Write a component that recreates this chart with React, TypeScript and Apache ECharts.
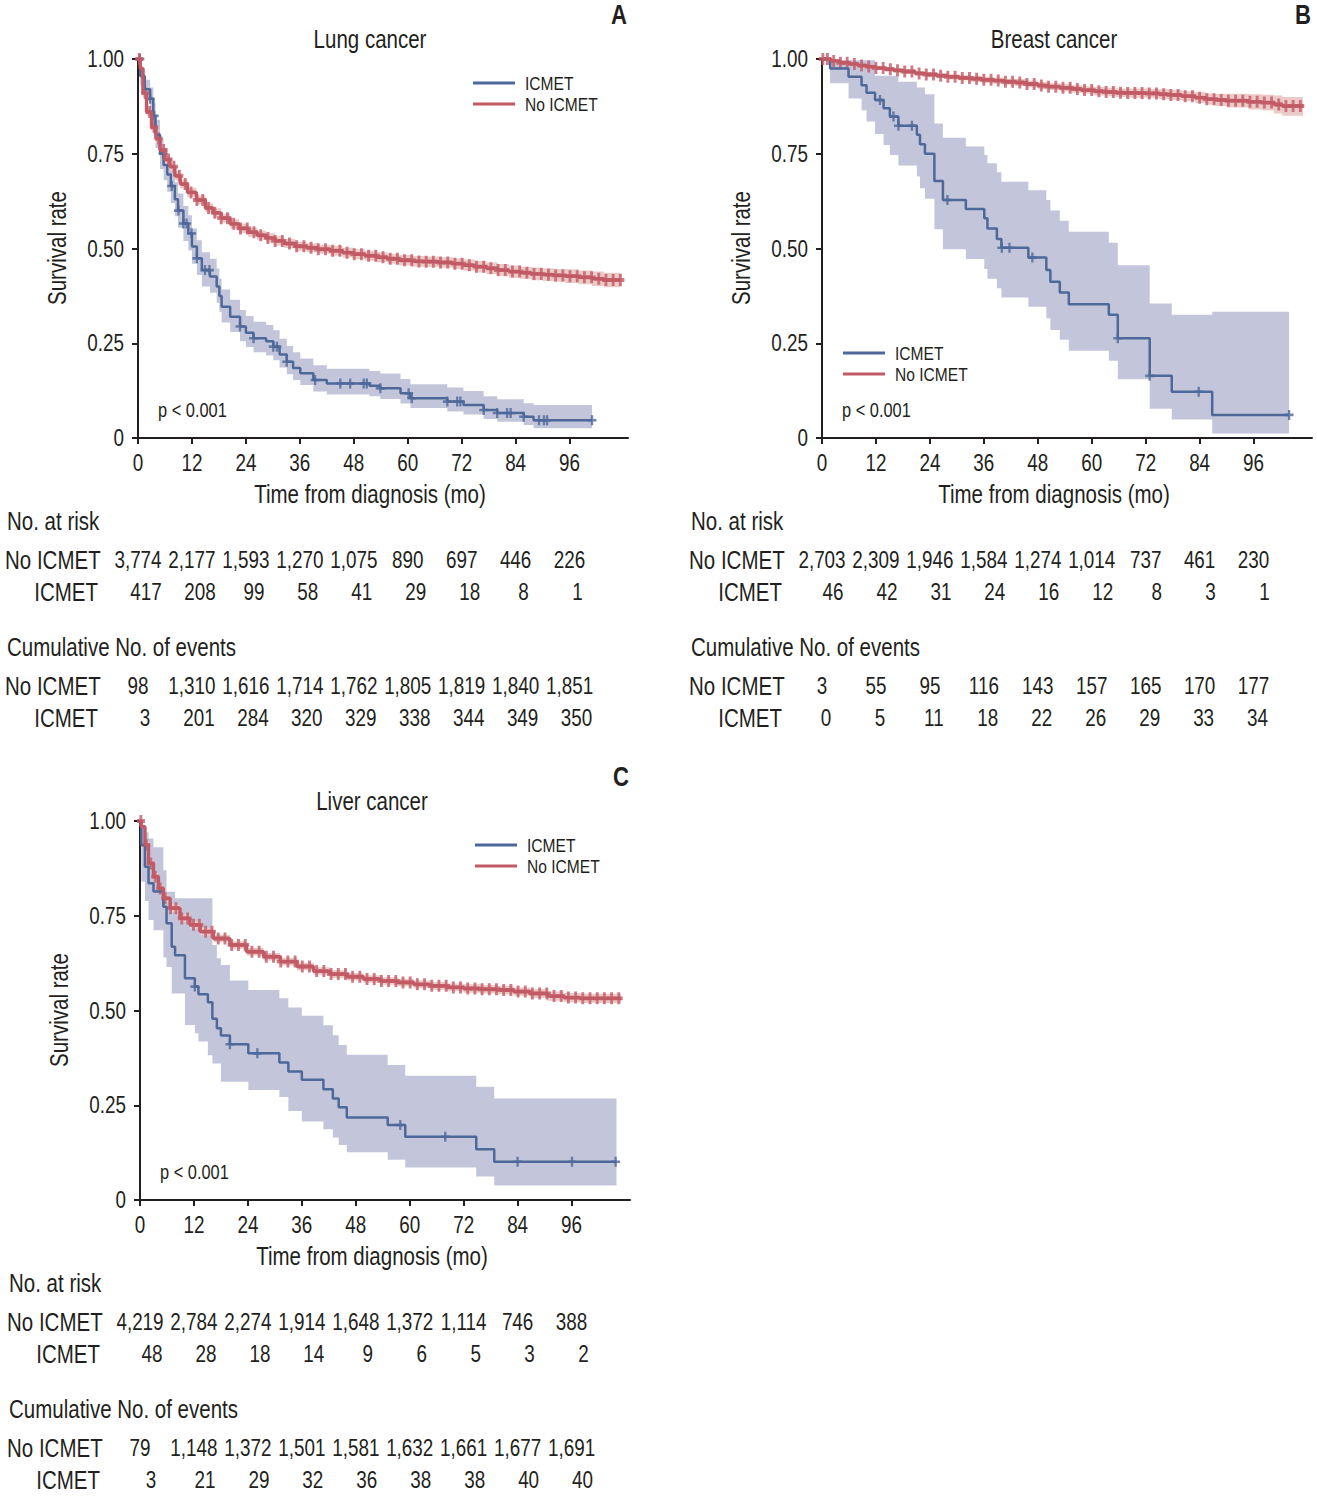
import React, { useEffect, useRef } from 'react';
import * as echarts from 'echarts';

type Row = [number, number, number, number]; // [month, survival, lower CI, upper CI]

// ---------- shared axes ----------
const monthTicks = [0, 12, 24, 36, 48, 60, 72, 84, 96];
const survTicks = [0, 0.25, 0.5, 0.75, 1];
const xMax = 109;

// ---------- A: Lung cancer ----------
const lungIcmet: Row[] = [
  [0, 1, 1, 1], [0.5, 0.955, 0.93, 0.975], [1.5, 0.92, 0.89, 0.945], [2.7, 0.895, 0.865, 0.925],
  [3.4, 0.85, 0.815, 0.885], [3.9, 0.8, 0.765, 0.84], [4.9, 0.75, 0.71, 0.79], [5.7, 0.72, 0.68, 0.765],
  [6.5, 0.695, 0.65, 0.74], [7.3, 0.665, 0.62, 0.71], [8.2, 0.63, 0.585, 0.675], [8.9, 0.6, 0.555, 0.645],
  [10.1, 0.566, 0.52, 0.612], [11.2, 0.54, 0.495, 0.588], [12.0, 0.505, 0.46, 0.553], [13.1, 0.474, 0.43, 0.522],
  [14.2, 0.443, 0.4, 0.49], [16.0, 0.426, 0.383, 0.473], [17.5, 0.4, 0.357, 0.447], [18.1, 0.375, 0.333, 0.42],
  [18.6, 0.346, 0.305, 0.392], [20.5, 0.32, 0.28, 0.365], [22.7, 0.294, 0.255, 0.338], [24.0, 0.278, 0.24, 0.322],
  [25.7, 0.263, 0.226, 0.307], [28.5, 0.255, 0.218, 0.298], [30.1, 0.241, 0.205, 0.284], [31.5, 0.22, 0.186, 0.262],
  [33.1, 0.201, 0.168, 0.243], [34.5, 0.185, 0.153, 0.226], [36.1, 0.171, 0.14, 0.21], [39.0, 0.153, 0.123, 0.192],
  [42.0, 0.144, 0.115, 0.183], [51.5, 0.138, 0.11, 0.177], [53.9, 0.131, 0.103, 0.17], [58.4, 0.118, 0.091, 0.156],
  [60.6, 0.105, 0.079, 0.142], [68.8, 0.096, 0.07, 0.133], [72.4, 0.087, 0.062, 0.124], [76.9, 0.074, 0.05, 0.11],
  [79.9, 0.066, 0.043, 0.102], [85.8, 0.056, 0.034, 0.092], [88.0, 0.047, 0.026, 0.087],
];
const lungIcmetEnd = 101;
const lungIcmetCensor = [0.4, 2.7, 3.6, 5.6, 7.5, 9.0, 10.1, 10.8, 11.9, 13.1, 14.9, 15.9, 22.7, 25.7, 30.1, 30.9, 33.1,
  39.4, 45.0, 47.2, 50.2, 50.9, 53.9, 60.2, 60.9, 68.8, 71.0, 71.7, 76.9, 79.9, 82.1, 82.9, 85.8, 89.2, 90.3, 91.0, 101.0];

const lungNo: Row[] = [
  [0, 1, 1, 1], [0.5, 0.975, 0.97, 0.98], [1.1, 0.91, 0.9, 0.92], [1.9, 0.86, 0.85, 0.87],
  [3.0, 0.82, 0.808, 0.832], [4.0, 0.79, 0.778, 0.802], [4.9, 0.76, 0.748, 0.772], [6.0, 0.735, 0.723, 0.747],
  [7.1, 0.716, 0.704, 0.728], [8.2, 0.692, 0.68, 0.704], [9.4, 0.67, 0.658, 0.682], [11.0, 0.648, 0.636, 0.66],
  [13.0, 0.628, 0.616, 0.64], [15.0, 0.607, 0.595, 0.619], [16.7, 0.594, 0.582, 0.606], [18.5, 0.58, 0.568, 0.592],
  [20.5, 0.565, 0.553, 0.577], [22.5, 0.553, 0.541, 0.565], [24.5, 0.543, 0.531, 0.555], [26.5, 0.535, 0.523, 0.547],
  [28.5, 0.528, 0.516, 0.54], [30.5, 0.52, 0.508, 0.532], [32.5, 0.513, 0.501, 0.525], [35.0, 0.506, 0.494, 0.518],
  [37.5, 0.502, 0.49, 0.514], [40.0, 0.498, 0.486, 0.51], [42.8, 0.494, 0.481, 0.507], [45.5, 0.489, 0.476, 0.502],
  [48.0, 0.485, 0.472, 0.498], [50.5, 0.481, 0.468, 0.494], [53.0, 0.477, 0.464, 0.49], [55.5, 0.473, 0.46, 0.486],
  [58.0, 0.469, 0.455, 0.483], [61.0, 0.466, 0.452, 0.48], [64.0, 0.465, 0.451, 0.479], [67.0, 0.463, 0.449, 0.477],
  [70.0, 0.46, 0.446, 0.474], [72.4, 0.456, 0.441, 0.471], [75.0, 0.452, 0.437, 0.467], [77.5, 0.448, 0.433, 0.463],
  [80.0, 0.443, 0.427, 0.459], [82.5, 0.439, 0.423, 0.455], [85.0, 0.436, 0.42, 0.452], [87.5, 0.433, 0.416, 0.45],
  [90.0, 0.431, 0.414, 0.448], [92.5, 0.429, 0.412, 0.446], [95.0, 0.427, 0.409, 0.445], [98.0, 0.424, 0.406, 0.442],
  [101.0, 0.42, 0.401, 0.439], [103.6, 0.417, 0.398, 0.436],
];
const lungNoEnd = 107.5;
const lungNoCensor = [0.3, 1.6, 2.6, 3.6, 4.6, 5.7, 6.8, 8.0, 9.2, 10.5, 11.8, 13.1, 14.4, 15.7, 17.1, 18.5, 19.9, 21.3,
  22.8, 24.3, 25.8, 27.3, 28.9, 30.5, 32.1, 33.7, 35.3, 36.9, 38.5, 40.1, 41.7, 43.3, 44.9, 46.5, 48.1, 49.7, 51.3, 52.9,
  54.5, 56.1, 57.7, 59.3, 60.9, 62.5, 64.1, 65.7, 67.3, 68.9, 70.5, 72.1, 73.7, 75.3, 76.9, 78.5, 80.1, 81.7, 83.3, 84.9,
  86.5, 88.1, 89.7, 91.3, 92.9, 94.5, 96.1, 97.7, 99.3, 100.9, 102.5, 104.1, 105.7, 107.3];

const lungRiskNo = [3774, 2177, 1593, 1270, 1075, 890, 697, 446, 226];
const lungRiskIcmet = [417, 208, 99, 58, 41, 29, 18, 8, 1];
const lungEventsNo = [98, 1310, 1616, 1714, 1762, 1805, 1819, 1840, 1851];
const lungEventsIcmet = [3, 201, 284, 320, 329, 338, 344, 349, 350];

// ---------- B: Breast cancer ----------
const breastIcmet: Row[] = [
  [0, 1, 1, 1], [1.8, 0.975, 0.936, 0.997], [5.9, 0.953, 0.896, 0.997], [8.8, 0.931, 0.865, 0.997],
  [9.9, 0.911, 0.835, 0.997], [11.8, 0.892, 0.802, 0.956], [13.7, 0.87, 0.773, 0.956], [15.1, 0.848, 0.747, 0.956],
  [17.0, 0.824, 0.719, 0.94], [21.1, 0.8, 0.69, 0.925], [21.8, 0.775, 0.659, 0.925], [22.9, 0.75, 0.631, 0.907],
  [25.0, 0.678, 0.551, 0.83], [26.9, 0.628, 0.498, 0.792], [32.0, 0.604, 0.472, 0.769], [36.1, 0.58, 0.446, 0.747],
  [36.8, 0.553, 0.42, 0.725], [38.9, 0.525, 0.395, 0.701], [39.9, 0.502, 0.371, 0.676], [45.9, 0.476, 0.346, 0.654],
  [49.9, 0.443, 0.316, 0.628], [50.8, 0.412, 0.285, 0.6], [52.9, 0.384, 0.259, 0.573], [54.9, 0.353, 0.23, 0.544],
  [63.8, 0.325, 0.204, 0.515], [65.8, 0.263, 0.155, 0.456], [72.9, 0.164, 0.077, 0.355], [77.8, 0.122, 0.049, 0.325],
  [86.8, 0.061, 0.012, 0.333],
];
const breastIcmetEnd = 103.9;
const breastIcmetCensor = [12.9, 15.9, 17.0, 20.0, 27.9, 40.0, 41.7, 46.8, 65.8, 72.9, 83.8, 103.9];

const breastNo: Row[] = [
  [0, 1, 1, 1], [2, 0.995, 0.992, 0.998], [4, 0.99, 0.986, 0.994], [6, 0.987, 0.983, 0.991],
  [8, 0.983, 0.978, 0.988], [10, 0.98, 0.975, 0.985], [12, 0.976, 0.971, 0.981], [14, 0.973, 0.967, 0.979],
  [16, 0.97, 0.964, 0.976], [18, 0.967, 0.961, 0.973], [20.7, 0.962, 0.956, 0.968], [23, 0.959, 0.952, 0.966],
  [25.5, 0.956, 0.949, 0.963], [28, 0.953, 0.946, 0.96], [30.5, 0.95, 0.943, 0.957], [33, 0.948, 0.94, 0.956],
  [35.6, 0.945, 0.937, 0.953], [38, 0.943, 0.935, 0.951], [40.5, 0.94, 0.932, 0.948], [43, 0.938, 0.929, 0.947],
  [45.5, 0.934, 0.925, 0.943], [48, 0.93, 0.921, 0.939], [50.4, 0.927, 0.918, 0.936], [53, 0.924, 0.914, 0.934],
  [55.5, 0.921, 0.911, 0.931], [57.8, 0.918, 0.908, 0.928], [60.5, 0.915, 0.904, 0.926], [63, 0.913, 0.902, 0.924],
  [65.3, 0.911, 0.9, 0.922], [68, 0.91, 0.898, 0.922], [72.7, 0.909, 0.897, 0.921], [75, 0.907, 0.894, 0.92],
  [77.5, 0.905, 0.892, 0.918], [80.1, 0.902, 0.889, 0.915], [83, 0.898, 0.884, 0.912], [85.5, 0.894, 0.879, 0.909],
  [87.5, 0.892, 0.876, 0.908], [90, 0.89, 0.872, 0.908], [94.9, 0.887, 0.867, 0.907], [98, 0.885, 0.864, 0.906],
  [100.5, 0.88, 0.856, 0.904], [102.4, 0.876, 0.85, 0.9],
];
const breastNoEnd = 107;
const breastNoCensor = [0.2, 1.2, 2.6, 4.1, 5.6, 7.2, 8.8, 10.4, 12.0, 13.6, 15.2, 16.8, 18.4, 20.0, 21.6, 23.2, 24.8,
  26.4, 28.0, 29.6, 31.2, 32.8, 34.4, 36.0, 37.6, 39.2, 40.8, 42.4, 44.0, 45.6, 47.2, 48.8, 50.4, 52.0, 53.6, 55.2, 56.8,
  58.4, 60.0, 61.6, 63.2, 64.8, 66.4, 68.0, 69.6, 71.2, 72.8, 74.4, 76.0, 77.6, 79.2, 80.8, 82.4, 84.0, 85.6, 87.2, 88.8,
  90.4, 92.0, 93.6, 95.2, 96.8, 98.4, 100.0, 101.6, 103.2, 104.8, 106.4];

const breastRiskNo = [2703, 2309, 1946, 1584, 1274, 1014, 737, 461, 230];
const breastRiskIcmet = [46, 42, 31, 24, 16, 12, 8, 3, 1];
const breastEventsNo = [3, 55, 95, 116, 143, 157, 165, 170, 177];
const breastEventsIcmet = [0, 5, 11, 18, 22, 26, 29, 33, 34];

// ---------- C: Liver cancer ----------
const liverIcmet: Row[] = [
  [0, 1, 1, 1], [0.3, 0.937, 0.84, 0.99], [1.1, 0.879, 0.789, 0.97], [1.9, 0.836, 0.739, 0.954],
  [3.0, 0.814, 0.712, 0.931], [5.2, 0.774, 0.64, 0.87], [5.9, 0.73, 0.615, 0.813], [7.05, 0.668, 0.545, 0.813],
  [7.8, 0.646, 0.545, 0.796], [10.0, 0.585, 0.462, 0.796], [12.2, 0.563, 0.44, 0.796], [13.0, 0.543, 0.418, 0.796],
  [15.1, 0.522, 0.382, 0.796], [16.1, 0.478, 0.36, 0.673], [17.1, 0.453, 0.36, 0.638], [18.0, 0.434, 0.312, 0.62],
  [20.0, 0.411, 0.312, 0.579], [24.1, 0.387, 0.29, 0.554], [31.0, 0.363, 0.272, 0.532], [33.0, 0.339, 0.235, 0.508],
  [36.0, 0.317, 0.207, 0.486], [40.8, 0.292, 0.187, 0.461], [42.9, 0.268, 0.165, 0.435], [44.2, 0.245, 0.145, 0.409],
  [46.0, 0.218, 0.126, 0.383], [55.1, 0.198, 0.106, 0.356], [59.0, 0.167, 0.086, 0.328], [74.8, 0.134, 0.062, 0.299],
  [78.8, 0.101, 0.038, 0.268],
];
const liverIcmetEnd = 106;
const liverIcmetCensor = [12.2, 20.0, 26.1, 57.9, 67.9, 84.0, 96.1, 105.8];

const liverNo: Row[] = [
  [0, 1, 1, 1], [0.3, 0.985, 0.98, 0.99], [1.1, 0.937, 0.929, 0.945], [1.9, 0.888, 0.879, 0.897],
  [3.0, 0.853, 0.843, 0.863], [4.1, 0.822, 0.812, 0.832], [5.2, 0.796, 0.786, 0.806], [6.7, 0.77, 0.76, 0.78],
  [8.9, 0.743, 0.733, 0.753], [11.1, 0.726, 0.716, 0.736], [13.4, 0.708, 0.698, 0.718], [16.3, 0.69, 0.68, 0.7],
  [20.0, 0.673, 0.663, 0.683], [23.7, 0.655, 0.645, 0.665], [27.5, 0.642, 0.632, 0.652], [31.2, 0.629, 0.619, 0.639],
  [34.9, 0.616, 0.606, 0.626], [38.6, 0.604, 0.594, 0.614], [42.3, 0.596, 0.586, 0.606], [46.0, 0.589, 0.579, 0.599],
  [49.7, 0.583, 0.573, 0.593], [53.5, 0.578, 0.568, 0.588], [57.2, 0.574, 0.564, 0.584], [60.9, 0.569, 0.559, 0.579],
  [64.6, 0.565, 0.555, 0.575], [68.3, 0.561, 0.551, 0.571], [72.0, 0.558, 0.547, 0.569], [75.7, 0.556, 0.545, 0.567],
  [79.4, 0.554, 0.543, 0.565], [83.1, 0.55, 0.539, 0.561], [86.8, 0.545, 0.533, 0.557], [90.6, 0.538, 0.526, 0.55],
  [94.3, 0.534, 0.522, 0.546], [98.0, 0.532, 0.52, 0.544],
];
const liverNoEnd = 107;
const liverNoCensor = [0.2, 1.4, 2.4, 3.4, 4.5, 5.6, 6.8, 8.0, 9.3, 10.6, 11.9, 13.2, 14.6, 16.0, 17.4, 18.9, 20.4, 21.9,
  23.4, 24.9, 26.5, 28.1, 29.7, 31.3, 32.9, 34.5, 36.1, 37.7, 39.3, 40.9, 42.5, 44.1, 45.7, 47.3, 48.9, 50.5, 52.1, 53.7,
  55.3, 56.9, 58.5, 60.1, 61.7, 63.3, 64.9, 66.5, 68.1, 69.7, 71.3, 72.9, 74.5, 76.1, 77.7, 79.3, 80.9, 82.5, 84.1, 85.7,
  87.3, 88.9, 90.5, 92.1, 93.7, 95.3, 96.9, 98.5, 100.1, 101.7, 103.3, 104.9, 106.5];

const liverRiskNo = [4219, 2784, 2274, 1914, 1648, 1372, 1114, 746, 388];
const liverRiskIcmet = [48, 28, 18, 14, 9, 6, 5, 3, 2];
const liverEventsNo = [79, 1148, 1372, 1501, 1581, 1632, 1661, 1677, 1691];
const liverEventsIcmet = [3, 21, 29, 32, 36, 38, 38, 40, 40];

// ---------- styling ----------
const FONT = '"Liberation Sans", Arial, sans-serif';
const NARROW = 0.82; // horizontal squeeze to imitate a condensed face
const INK = '#231f20';
const BLUE = '#4d6899';
const RED = '#c25a66';
const BLUE_BAND = '#c3c6da';
const RED_BAND = '#ebcac7';
const PLUS_THIN = 'path://M3.7 0h2.6v3.7h3.7v2.6h-3.7v3.7h-2.6v-3.7h-3.7v-2.6h3.7z';
const PLUS_THICK = 'path://M3.2 0h3.6v3.4h3.2v3.2h-3.2v3.4h-3.6v-3.4h-3.2v-3.2h3.2z';

const survAt = (rows: Row[], t: number) => {
  let s = rows[0][1];
  for (const r of rows) if (r[0] <= t + 1e-9) s = r[1];
  return s;
};

const fmt = (n: number) => n.toLocaleString('en-US');

interface Panel {
  title: string;
  letter: string;
  grid: { left: number; top: number };
  icmet: Row[]; icmetEnd: number; icmetCensor: number[];
  no: Row[]; noEnd: number; noCensor: number[];
  legend: { x: number; y: number };
  p: { x: number; y: number };
  table: { x: number; y: number; offRisk: number; offEv: number };
  riskNo: number[]; riskIc: number[]; evNo: number[]; evIc: number[];
}

const panels: Panel[] = [
  {
    title: 'Lung cancer', letter: 'A', grid: { left: 138, top: 59 },
    icmet: lungIcmet, icmetEnd: lungIcmetEnd, icmetCensor: lungIcmetCensor,
    no: lungNo, noEnd: lungNoEnd, noCensor: lungNoCensor,
    legend: { x: 473, y: 83 }, p: { x: 158, y: 410 },
    table: { x: 5, y: 521, offRisk: 8, offEv: 7 },
    riskNo: lungRiskNo, riskIc: lungRiskIcmet, evNo: lungEventsNo, evIc: lungEventsIcmet,
  },
  {
    title: 'Breast cancer', letter: 'B', grid: { left: 822, top: 59 },
    icmet: breastIcmet, icmetEnd: breastIcmetEnd, icmetCensor: breastIcmetCensor,
    no: breastNo, noEnd: breastNoEnd, noCensor: breastNoCensor,
    legend: { x: 843, y: 353 }, p: { x: 842, y: 410 },
    table: { x: 689, y: 521, offRisk: 11, offEv: 4 },
    riskNo: breastRiskNo, riskIc: breastRiskIcmet, evNo: breastEventsNo, evIc: breastEventsIcmet,
  },
  {
    title: 'Liver cancer', letter: 'C', grid: { left: 140, top: 821 },
    icmet: liverIcmet, icmetEnd: liverIcmetEnd, icmetCensor: liverIcmetCensor,
    no: liverNo, noEnd: liverNoEnd, noCensor: liverNoCensor,
    legend: { x: 475, y: 845 }, p: { x: 160, y: 1172 },
    table: { x: 7, y: 1283, offRisk: 12, offEv: 11 },
    riskNo: liverRiskNo, riskIc: liverRiskIcmet, evNo: liverEventsNo, evIc: liverEventsIcmet,
  },
];

const GRID_W = 490;
const GRID_H = 379;

function bandSeries(rows: Row[], end: number, color: string, gi: number) {
  return {
    type: 'custom', xAxisIndex: gi, yAxisIndex: gi, silent: true, clip: true,
    data: [[0, 0]],
    renderItem: (_params: any, api: any) => {
      const up: number[][] = [];
      const lo: number[][] = [];
      rows.forEach((r, i) => {
        const next = i < rows.length - 1 ? rows[i + 1][0] : end;
        up.push(api.coord([r[0], r[3]]), api.coord([next, r[3]]));
        lo.push(api.coord([r[0], r[2]]), api.coord([next, r[2]]));
      });
      return { type: 'polygon', shape: { points: up.concat(lo.reverse()) }, style: { fill: color } };
    },
  };
}

function curveSeries(rows: Row[], end: number, color: string, width: number, gi: number) {
  const data = rows.map((r) => [r[0], r[1]]);
  data.push([end, rows[rows.length - 1][1]]);
  return {
    type: 'line', xAxisIndex: gi, yAxisIndex: gi, step: 'end', showSymbol: false, silent: true,
    data, lineStyle: { color, width }, itemStyle: { color },
  };
}

function censorSeries(rows: Row[], times: number[], color: string, symbol: string, size: number[], gi: number) {
  return {
    type: 'scatter', xAxisIndex: gi, yAxisIndex: gi, silent: true, symbol, symbolSize: size,
    data: times.map((t) => [t, survAt(rows, t)]), itemStyle: { color },
  };
}

function txt(text: string, x: number, y: number, size: number, align = 'left', bold = false, rotation = 0) {
  return {
    type: 'text', x, y, rotation, scaleX: NARROW, silent: true,
    style: {
      text, fill: INK, fontFamily: FONT, fontSize: size, fontWeight: bold ? 'bold' : 'normal',
      textAlign: align, textVerticalAlign: 'middle',
    },
  };
}

export default function App() {
  const ref = useRef<HTMLDivElement>(null);
  useEffect(() => {
    document.body.style.margin = '0';
    if (!ref.current) return;
    const chart = echarts.init(ref.current, undefined, { renderer: 'svg' });

    const grids = panels.map((p) => ({ left: p.grid.left, top: p.grid.top, width: GRID_W, height: GRID_H, outerBoundsMode: 'none' }));
    const axisCommon = {
      axisLine: { show: true, lineStyle: { color: INK, width: 2 } },
      axisTick: { show: true, length: 6, lineStyle: { color: INK, width: 2 } },
      axisLabel: { show: false },
      splitLine: { show: false },
    };
    const xAxes = panels.map((_, i) => ({
      type: 'value', gridIndex: i, min: 0, max: xMax, interval: 12, ...axisCommon,
      axisTick: { ...axisCommon.axisTick, customValues: monthTicks },
    }));
    const yAxes = panels.map((_, i) => ({
      type: 'value', gridIndex: i, min: 0, max: 1, interval: 0.25, ...axisCommon,
    }));

    const series: any[] = [];
    panels.forEach((p, i) => {
      series.push(bandSeries(p.icmet, p.icmetEnd, BLUE_BAND, i));
      series.push(bandSeries(p.no, p.noEnd, RED_BAND, i));
      series.push(curveSeries(p.icmet, p.icmetEnd, BLUE, 2.5, i));
      series.push(censorSeries(p.icmet, p.icmetCensor, BLUE, PLUS_THIN, [9, 10], i));
      series.push(curveSeries(p.no, p.noEnd, RED, 3.4, i));
      series.push(censorSeries(p.no, p.noCensor, RED, PLUS_THICK, [8, 12], i));
    });

    chart.setOption({ animation: false, grid: grids, xAxis: xAxes, yAxis: yAxes, series });

    const graphics: any[] = [];
    panels.forEach((p, i) => {
      const gl = p.grid.left;
      const gt = p.grid.top;
      const axisY = chart.convertToPixel({ yAxisIndex: i }, 0) as number;
      const axisX = chart.convertToPixel({ xAxisIndex: i }, 0) as number;
      // tick labels
      monthTicks.forEach((m) => {
        const px = chart.convertToPixel({ xAxisIndex: i }, m) as number;
        graphics.push(txt(String(m), px, axisY + 25, 23, 'center'));
      });
      survTicks.forEach((v) => {
        const py = chart.convertToPixel({ yAxisIndex: i }, v) as number;
        graphics.push(txt(v === 0 ? '0' : v.toFixed(2), axisX - 14, py, 23, 'right'));
      });
      const cx = gl + 232;
      graphics.push(txt(p.title, cx, gt - 20, 25, 'center'));
      graphics.push(txt(p.letter, gl + 481, gt - 44, 27, 'center', true));
      graphics.push(txt('Time from diagnosis (mo)', cx, axisY + 56, 25, 'center'));
      graphics.push(txt('Survival rate', gl - 81, gt + 189, 25, 'center', false, Math.PI / 2));
      // legend
      graphics.push({ type: 'line', silent: true, shape: { x1: p.legend.x, y1: p.legend.y, x2: p.legend.x + 42, y2: p.legend.y }, style: { stroke: BLUE, lineWidth: 3 } });
      graphics.push({ type: 'line', silent: true, shape: { x1: p.legend.x, y1: p.legend.y + 21, x2: p.legend.x + 42, y2: p.legend.y + 21 }, style: { stroke: RED, lineWidth: 3 } });
      graphics.push(txt('ICMET', p.legend.x + 52, p.legend.y, 19));
      graphics.push(txt('No ICMET', p.legend.x + 52, p.legend.y + 21, 19));
      graphics.push(txt('p < 0.001', p.p.x, p.p.y, 20));

      // tables
      const t = p.table;
      graphics.push(txt('No. at risk', t.x + 2, t.y, 25));
      graphics.push(txt('No ICMET', t.x, t.y + 39, 25));
      graphics.push(txt('ICMET', t.x + 93, t.y + 71, 25, 'right'));
      graphics.push(txt('Cumulative No. of events', t.x + 2, t.y + 126, 25));
      graphics.push(txt('No ICMET', t.x, t.y + 165, 25));
      graphics.push(txt('ICMET', t.x + 93, t.y + 197, 25, 'right'));
      monthTicks.forEach((m, k) => {
        const px = chart.convertToPixel({ xAxisIndex: i }, m) as number;
        graphics.push(txt(fmt(p.riskNo[k]), px, t.y + 39, 23, 'center'));
        graphics.push(txt(fmt(p.riskIc[k]), px + t.offRisk, t.y + 71, 23, 'center'));
        graphics.push(txt(fmt(p.evNo[k]), px, t.y + 165, 23, 'center'));
        graphics.push(txt(fmt(p.evIc[k]), px + t.offEv, t.y + 197, 23, 'center'));
      });
    });
    chart.setOption({ graphic: graphics });

    return () => chart.dispose();
  }, []);
  return <div ref={ref} style={{ width: 1317, height: 1496 }} />;
}
